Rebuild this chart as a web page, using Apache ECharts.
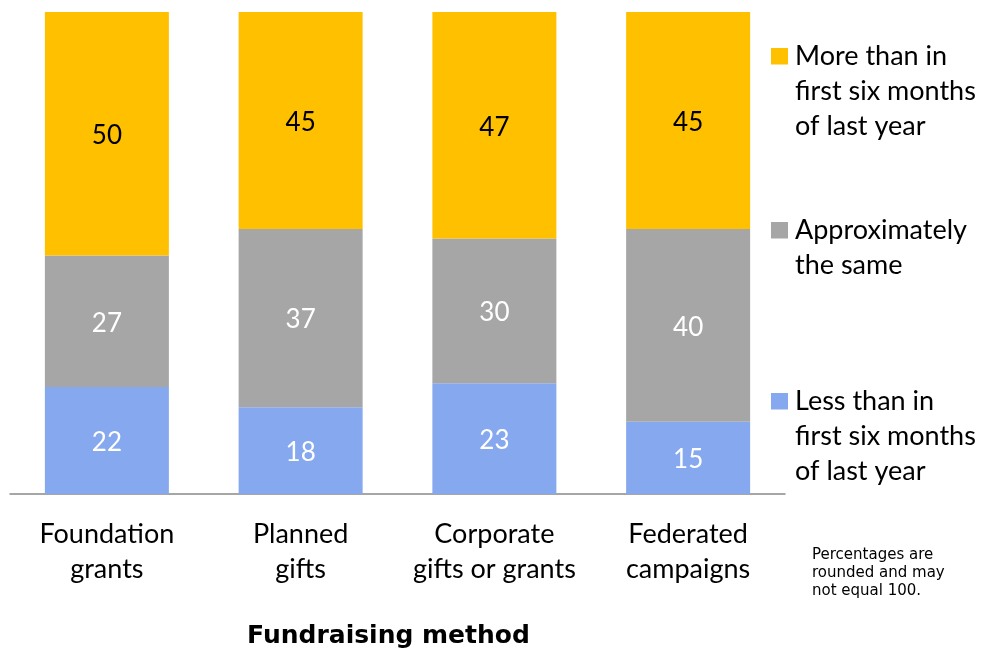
<!DOCTYPE html>
<html>
<head>
<meta charset="utf-8">
<script src="https://cdn.jsdelivr.net/npm/echarts@6/dist/echarts.min.js"></script>
<style>
html,body{margin:0;padding:0;background:#fff;}
#chart{width:981px;height:652px;}
</style>
</head>
<body>
<div id="chart"></div>
<script>
var categories = ['Foundation\ngrants', 'Planned\ngifts', 'Corporate\ngifts or grants', 'Federated\ncampaigns'];
var lessValues = [22, 18, 23, 15];
var sameValues = [27, 37, 30, 40];
var moreValues = [50, 45, 47, 45];
var seriesNames = ['Less than in\nfirst six months\nof last year', 'Approximately\nthe same', 'More than in\nfirst six months\nof last year'];
var colors = ['#86A8EE', '#A6A6A6', '#FFC000'];
var labelColors = ['#ffffff', '#ffffff', '#000000'];
var axisTitle = 'Fundraising method';
var noteText = 'Percentages are\nrounded and may\nnot equal 100.';

var FONT = 'Lato';
var totals = categories.map(function (c, i) { return lessValues[i] + sameValues[i] + moreValues[i]; });
var raw = [lessValues, sameValues, moreValues];

var series = raw.map(function (vals, s) {
  return {
    name: seriesNames[s],
    type: 'bar',
    stack: 'total',
    barCategoryGap: '36%',
    itemStyle: { color: colors[s] },
    label: {
      show: true,
      position: 'inside',
      offset: [0, 2],
      fontFamily: FONT,
      fontSize: 26,
      color: labelColors[s],
      formatter: function (p) { return vals[p.dataIndex]; }
    },
    data: vals.map(function (v, i) { return v / totals[i] * 100; })
  };
});

// legend drawn as graphic elements (icon aligned with first text line)
var legendTops = [393, 222, 48]; // for series 0,1,2
var legendGraphics = [];
[2, 1, 0].forEach(function (s) {
  var top = legendTops[s];
  legendGraphics.push({
    type: 'rect',
    left: 771, top: top,
    shape: { width: 17, height: 16.5 },
    style: { fill: colors[s] }
  });
  legendGraphics.push({
    type: 'text',
    left: 795, top: top + 8 - 17.5,
    style: {
      text: seriesNames[s],
      fontFamily: FONT, fontSize: 27, lineHeight: 35,
      fill: '#000'
    }
  });
});

var chart = echarts.init(document.getElementById('chart'));
chart.setOption({
  animation: false,
  backgroundColor: '#ffffff',
  title: {
    text: noteText,
    left: 812,
    top: 546,
    padding: 0,
    textStyle: { fontFamily: 'DejaVu Sans', fontSize: 15, fontWeight: 'normal', color: '#000', lineHeight: 18 }
  },
  graphic: legendGraphics,
  grid: { left: 10, right: 196, top: 12, bottom: 158, containLabel: false, outerBoundsMode: 'none' },
  xAxis: {
    type: 'category',
    data: categories,
    axisLine: { lineStyle: { color: '#898989', width: 1.5 } },
    axisTick: { show: false },
    axisLabel: { fontFamily: FONT, fontSize: 27, color: '#000', lineHeight: 35, margin: 23, interval: 0 },
    name: axisTitle,
    nameLocation: 'middle',
    nameGap: 130,
    nameTextStyle: { fontFamily: 'DejaVu Sans', fontWeight: 'bold', fontSize: 25, color: '#000', padding: [0, 18, 0, 0] }
  },
  yAxis: { type: 'value', min: 0, max: 100, show: false, splitLine: { show: false } },
  series: series
});
</script>
</body>
</html>
